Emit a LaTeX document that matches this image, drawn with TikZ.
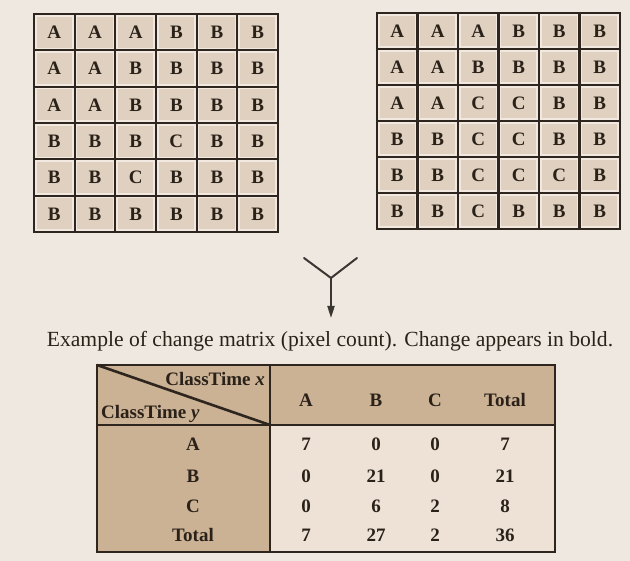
\documentclass[tikz,border=0pt]{standalone}
\usepackage{fontspec}
\setmainfont{Liberation Serif}
\usetikzlibrary{arrows.meta}
\definecolor{bg}{HTML}{EFE8E1}
\definecolor{cellfill}{HTML}{DFD0BF}
\definecolor{cellrim}{HTML}{F1E9E0}
\definecolor{gridline}{HTML}{2E261E}
\definecolor{tan}{HTML}{CBB295}
\definecolor{datafill}{HTML}{EDE2D5}
\definecolor{ink}{HTML}{2A2119}
\definecolor{arrowgrey}{HTML}{3A3633}
\begin{document}
\begin{tikzpicture}[x=1pt,y=-1pt,
  cell/.style={rectangle, fill=cellfill, draw=cellrim, line width=2.4pt,
    inner sep=0pt, text=ink, font=\fontsize{19}{19}\selectfont\bfseries},
  gridrule/.style={draw=gridline, line width=2.2pt},
  gridframe/.style={draw=gridline, line width=2.8pt},
  tabrule/.style={draw=gridline, line width=2.6pt},
  tabtext/.style={text=ink, inner sep=0pt, font=\fontsize{19}{19}\selectfont\bfseries},
  axistext/.style={text=ink, inner sep=0pt, font=\fontsize{19}{19}\selectfont\bfseries},
  captext/.style={text=ink, inner sep=0pt, font=\fontsize{21.6}{23}\selectfont},
  arm/.style={draw=arrowgrey, line width=2pt, line cap=round},
  shaft/.style={draw=arrowgrey, line width=2pt, -{Triangle[length=12pt,width=7pt]}}]

% page
\fill[bg] (0,0) rectangle (630,561);
\useasboundingbox (0,0) rectangle (630,561);

% ---------- left class map ----------
\foreach \row [count=\r] in {{A,A,A,B,B,B},{A,A,B,B,B,B},{A,A,B,B,B,B},
                             {B,B,B,C,B,B},{B,B,C,B,B,B},{B,B,B,B,B,B}} {
  \foreach \ch [count=\c] in \row {
    \node[cell, minimum width=38pt, minimum height=33.6pt]
      (L-\r-\c) at ({34+(\c-0.5)*40.67},{14+(\r-0.5)*36.33}) {\ch};
  }
}
\foreach \i in {1,...,5} {
  \draw[gridrule] ({34+\i*40.67},14) -- ({34+\i*40.67},232);
  \draw[gridrule] (34,{14+\i*36.33}) -- (278,{14+\i*36.33});
}
\draw[gridframe] (34,14) rectangle (278,232);

% ---------- right class map ----------
\foreach \row [count=\r] in {{A,A,A,B,B,B},{A,A,B,B,B,B},{A,A,C,C,B,B},
                             {B,B,C,C,B,B},{B,B,C,C,C,B},{B,B,C,B,B,B}} {
  \foreach \ch [count=\c] in \row {
    \node[cell, minimum width=37.8pt, minimum height=33.3pt]
      (R-\r-\c) at ({377+(\c-0.5)*40.5},{13+(\r-0.5)*36}) {\ch};
  }
}
\foreach \i in {1,...,5} {
  \draw[gridrule] ({377+\i*40.5},13) -- ({377+\i*40.5},229);
  \draw[gridrule] (377,{13+\i*36}) -- (620,{13+\i*36});
}
\draw[gridframe] (377,13) rectangle (620,229);

% ---------- merging arrow ----------
\coordinate (armL) at (304,258);
\coordinate (armR) at (357,258);
\coordinate (fork) at (331,278);
\coordinate (tip) at (331,318);
\draw[arm] (armL) -- (fork);
\draw[arm] (armR) -- (fork);
\draw[shaft] (fork) -- (tip);

% ---------- caption ----------
\node[captext] (caption) at (330,341)
  {Example of change matrix (pixel count). Change appears in bold.};

% ---------- change matrix ----------
\fill[tan] (97,365) rectangle (555,425);
\fill[tan] (97,425) rectangle (270,552);
\fill[datafill] (270,425) rectangle (555,552);
\draw[tabrule] (97,365) -- (270,425);
\draw[tabrule] (97,425) -- (555,425);
\draw[tabrule] (270,365) -- (270,552);
\draw[tabrule] (97,365) rectangle (555,552);

\node[axistext, anchor=east] (hx) at (265,379) {ClassTime \textit{x}};
\node[axistext, anchor=west] (hy) at (101,414) {ClassTime \textit{y}};

\node[tabtext] (hA) at (306,400) {A};
\node[tabtext] (hB) at (376,400) {B};
\node[tabtext] (hC) at (435,400) {C};
\node[tabtext] (hT) at (505,400) {Total};

\node[tabtext] (rA) at (193,444) {A};
\node[tabtext] (rB) at (193,476) {B};
\node[tabtext] (rC) at (193,506) {C};
\node[tabtext] (rT) at (193,535) {Total};

\foreach \y/\a/\b/\c/\t [count=\k] in {444/7/0/0/7, 476/0/21/0/21, 506/0/\textbf{6}/2/8, 535/7/27/2/36} {
  \node[tabtext] (v-\k-1) at (306,\y) {\a};
  \node[tabtext] (v-\k-2) at (376,\y) {\b};
  \node[tabtext] (v-\k-3) at (435,\y) {\c};
  \node[tabtext] (v-\k-4) at (505,\y) {\t};
}
\end{tikzpicture}
\end{document}
